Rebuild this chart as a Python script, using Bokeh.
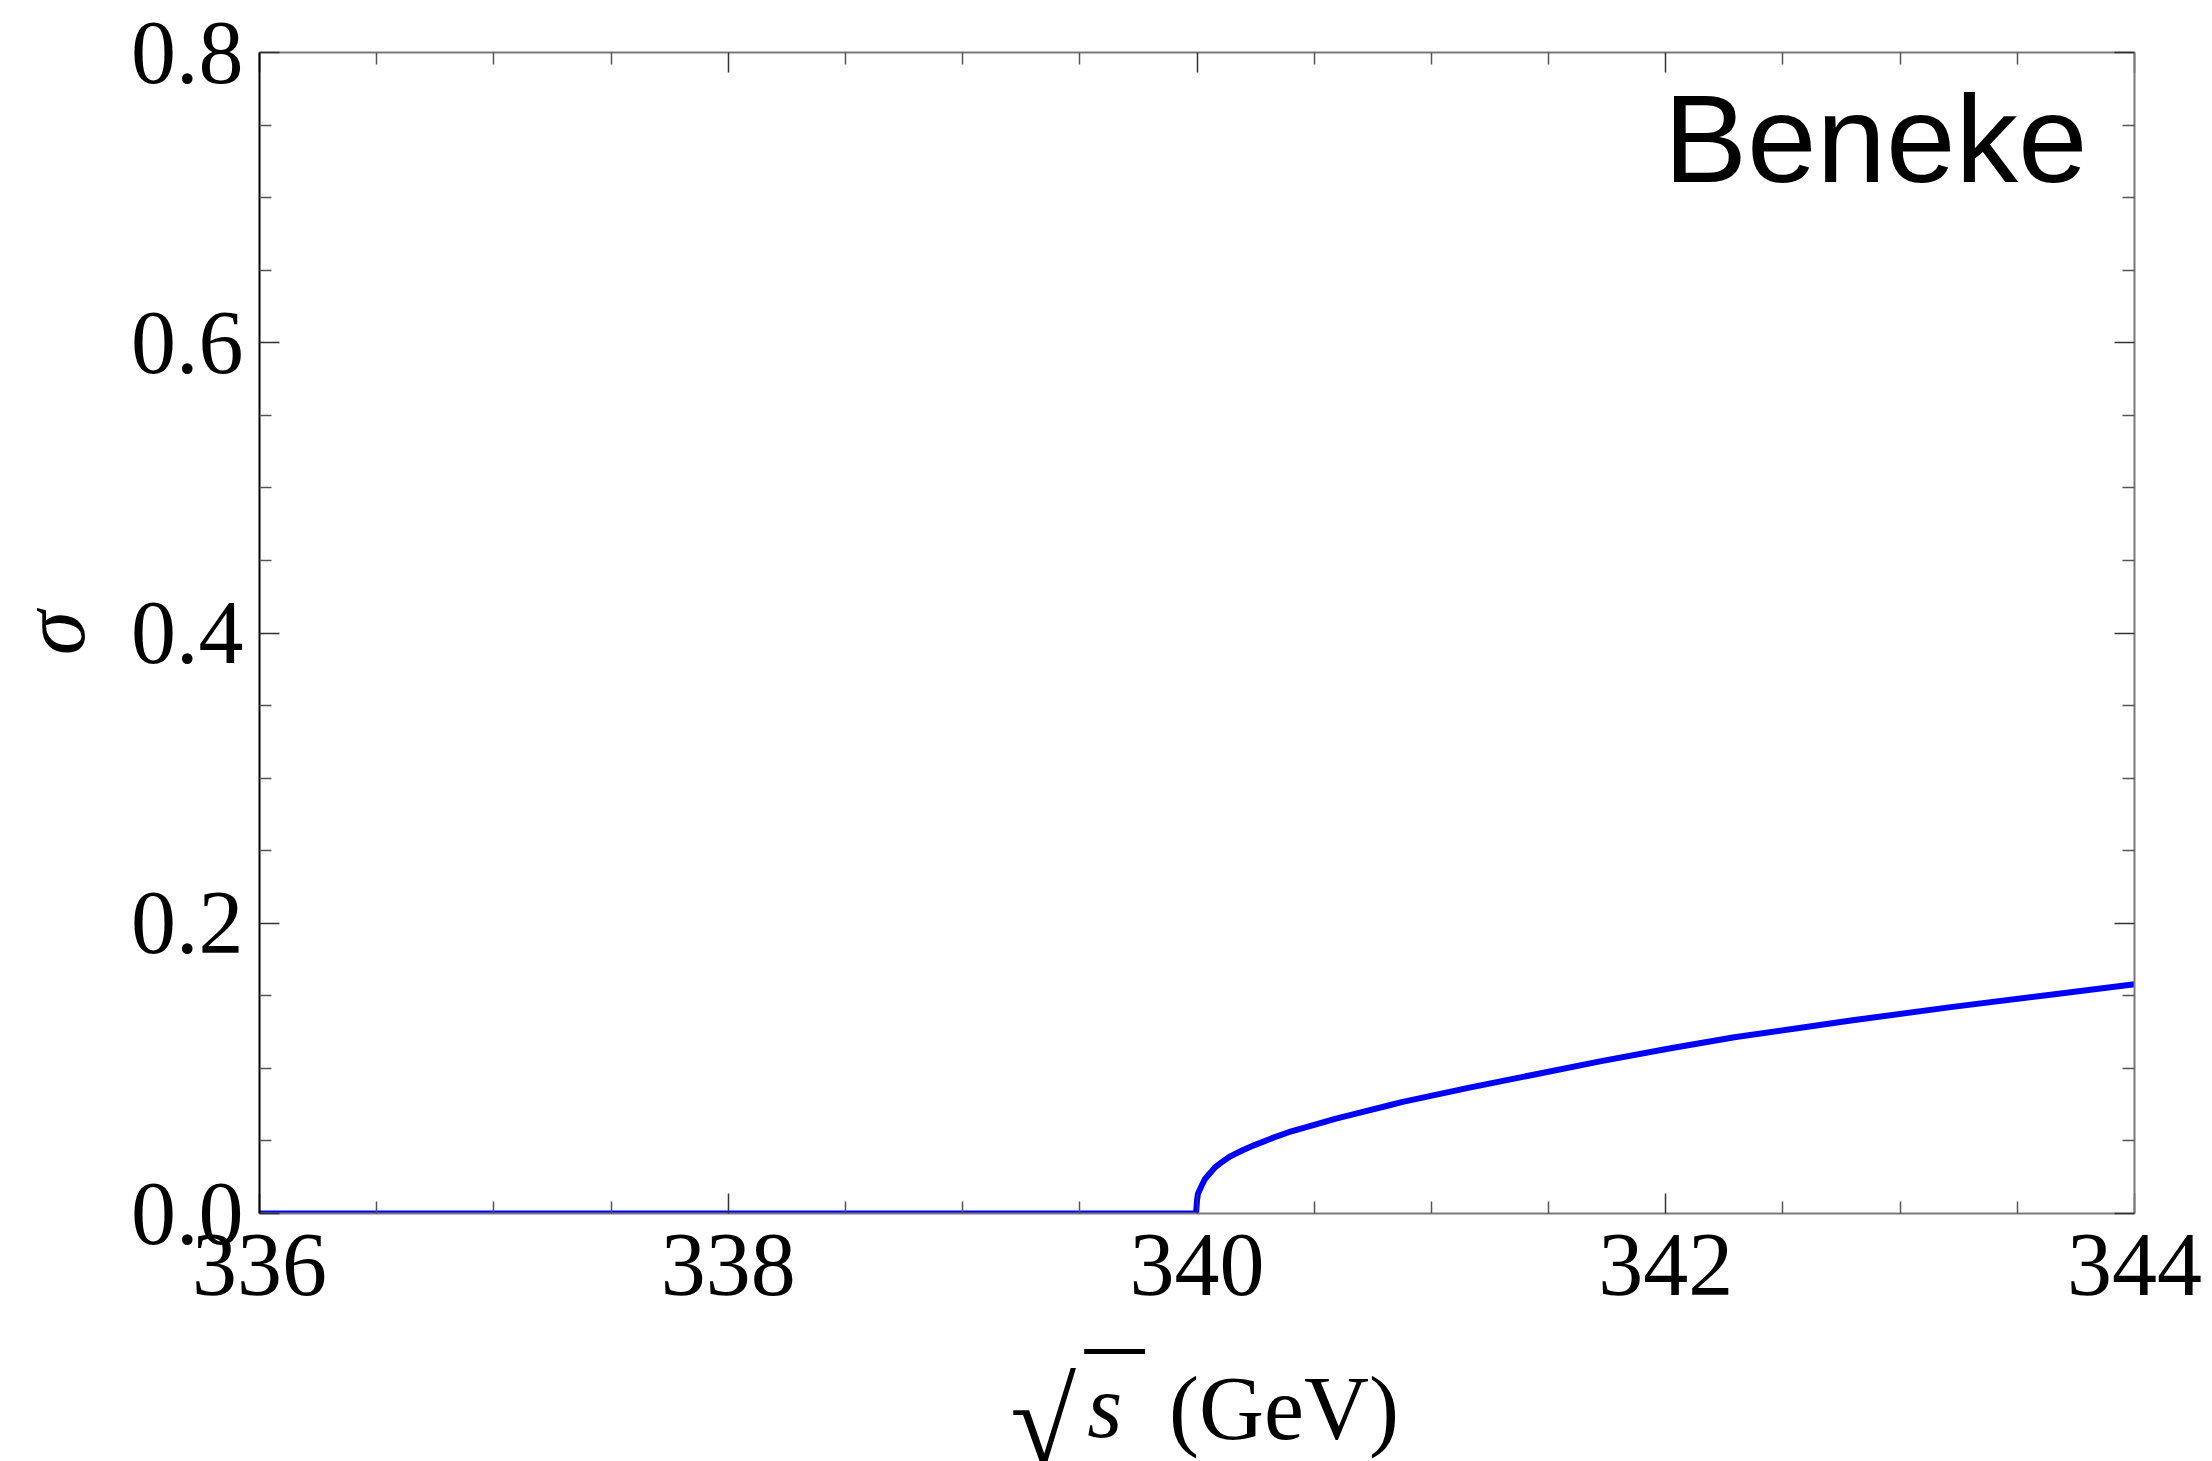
from bokeh.plotting import figure
from bokeh.layouts import column
from bokeh.models import Range1d, LinearAxis, FixedTicker, Label, PrintfTickFormatter
from bokeh.core.properties import value
from bokeh.embed import file_html
from bokeh.resources import INLINE

# ---- data ----
sqrt_s = [336.0, 339.996, 340.0, 340.004, 340.014, 340.024, 340.035, 340.057, 340.078,
          340.106, 340.142, 340.192, 340.248, 340.320, 340.391, 340.504, 340.589,
          340.674, 340.817, 340.873, 341.157, 341.441, 341.725, 342.009, 342.293,
          342.577, 342.790, 343.216, 343.642, 344.0]
sigma = [0.0, 0.0, 0.009, 0.0136, 0.017, 0.0206, 0.024, 0.028, 0.032,
         0.0354, 0.0394, 0.0434, 0.0473, 0.0519, 0.0560, 0.0613, 0.0652,
         0.0687, 0.0744, 0.0767, 0.0866, 0.0958, 0.1050, 0.1135, 0.1215,
         0.1280, 0.1330, 0.1422, 0.1507, 0.1580]

x_ticks = [336, 338, 340, 342, 344]
x_tick_labels = ["336", "338", "340", "342", "344"]
x_minor = [336.5, 337, 337.5, 338.5, 339, 339.5, 340.5, 341, 341.5, 342.5, 343, 343.5]
y_ticks = [0.0, 0.2, 0.4, 0.6, 0.8]
y_tick_labels = ["0.0", "0.2", "0.4", "0.6", "0.8"]
y_minor = [0.05, 0.1, 0.15, 0.25, 0.3, 0.35, 0.45, 0.5, 0.55, 0.65, 0.7, 0.75]

panel_label = "Beneke"
y_label = "σ"
x_label_root = "√"
x_label_var = "s"
x_label_unit = "(GeV)"

SERIF = "Liberation Serif"
SANS = "Liberation Sans"
FS = "90px"

W = 2212
H_MAIN = 1345
H_LABEL = 1461 - H_MAIN
FRAME_L, FRAME_R = 256, 2134

p = figure(width=W, height=H_MAIN, output_backend="svg", toolbar_location=None,
           x_range=Range1d(336, 344), y_range=Range1d(0, 0.8),
           min_border_left=FRAME_L, min_border_right=W - FRAME_R, min_border_top=52,
           min_border_bottom=H_MAIN - 1213)
p.xgrid.visible = False
p.ygrid.visible = False
p.outline_line_color = None
p.background_fill_color = "white"
p.border_fill_color = "white"

xt = FixedTicker(ticks=x_ticks, minor_ticks=x_minor)
yt = FixedTicker(ticks=y_ticks, minor_ticks=y_minor)


def style(ax, line_color, show_labels):
    ax.axis_line_color = line_color
    ax.axis_line_width = 2
    ax.major_tick_in = 20
    ax.major_tick_out = 0
    ax.minor_tick_in = 12
    ax.minor_tick_out = 0
    ax.major_tick_line_color = "#333333"
    ax.major_tick_line_width = 1.5
    ax.minor_tick_line_color = "#555555"
    ax.minor_tick_line_width = 1.5
    ax.major_label_text_font = SERIF
    ax.major_label_text_color = "black"
    if show_labels:
        ax.major_label_text_font_size = FS
    else:
        ax.major_label_text_font_size = "0px"
        ax.major_label_standoff = 0


xa = p.xaxis[0]
xa.ticker = xt
xa.formatter = PrintfTickFormatter(format="%d")
xa.major_label_overrides = {v: s for v, s in zip(x_ticks, x_tick_labels)}
style(xa, "#7a7a7a", True)
xa.major_label_standoff = 21

ya = p.yaxis[0]
ya.ticker = yt
ya.formatter = PrintfTickFormatter(format="%.1f")
ya.major_label_overrides = {v: s for v, s in zip(y_ticks, y_tick_labels)}
style(ya, "black", True)
ya.major_label_standoff = 16
ya.axis_label = y_label
ya.axis_label_text_font = SERIF
ya.axis_label_text_font_style = "italic"
ya.axis_label_text_font_size = FS
ya.axis_label_text_color = "black"
ya.axis_label_standoff = 25

top = LinearAxis(ticker=xt)
style(top, "#7a7a7a", False)
p.add_layout(top, "above")
right = LinearAxis(ticker=yt)
style(right, "#7a7a7a", False)
p.add_layout(right, "right")

p.line(sqrt_s, sigma, line_color="#0000ff", line_width=6, line_join="round")

p.add_layout(Label(x=343.80, y=0.7407, text=panel_label, text_align="right",
                   text_baseline="alphabetic", text_font=SANS, text_font_size="125px",
                   text_color="black"))

# ---- x axis label strip: sqrt(s) (GeV) ----
# its frame is aligned with the main frame by the column layout (x in page pixels)
q = figure(width=W, height=H_LABEL, output_backend="svg", toolbar_location=None,
           x_range=Range1d(FRAME_L, FRAME_R), y_range=Range1d(H_LABEL, 0),
           x_axis_location=None, y_axis_location=None, min_border=0,
           min_border_left=FRAME_L, min_border_right=W - FRAME_R)
q.xgrid.visible = False
q.ygrid.visible = False
q.outline_line_color = None
q.background_fill_color = "white"
q.border_fill_color = "white"

q.text(x=[1008], y=[77], text=[x_label_root], text_font=value(SERIF),
       text_font_size="120px", text_baseline="alphabetic", text_align="left",
       text_color="black")
q.segment(x0=[1082], y0=[6], x1=[1143], y1=[6], line_width=5, line_color="black")
q.text(x=[1085], y=[61], text=[x_label_var], text_font=value(SERIF),
       text_font_style="italic", text_font_size=FS, text_baseline="alphabetic",
       text_align="left", text_color="black")
q.text(x=[1167], y=[63], text=[x_label_unit], text_font=value(SERIF),
       text_font_size=FS, text_baseline="alphabetic", text_align="left",
       text_color="black")

layout = column(p, q, spacing=0)
open("out.html", "w").write(file_html(layout, INLINE))
